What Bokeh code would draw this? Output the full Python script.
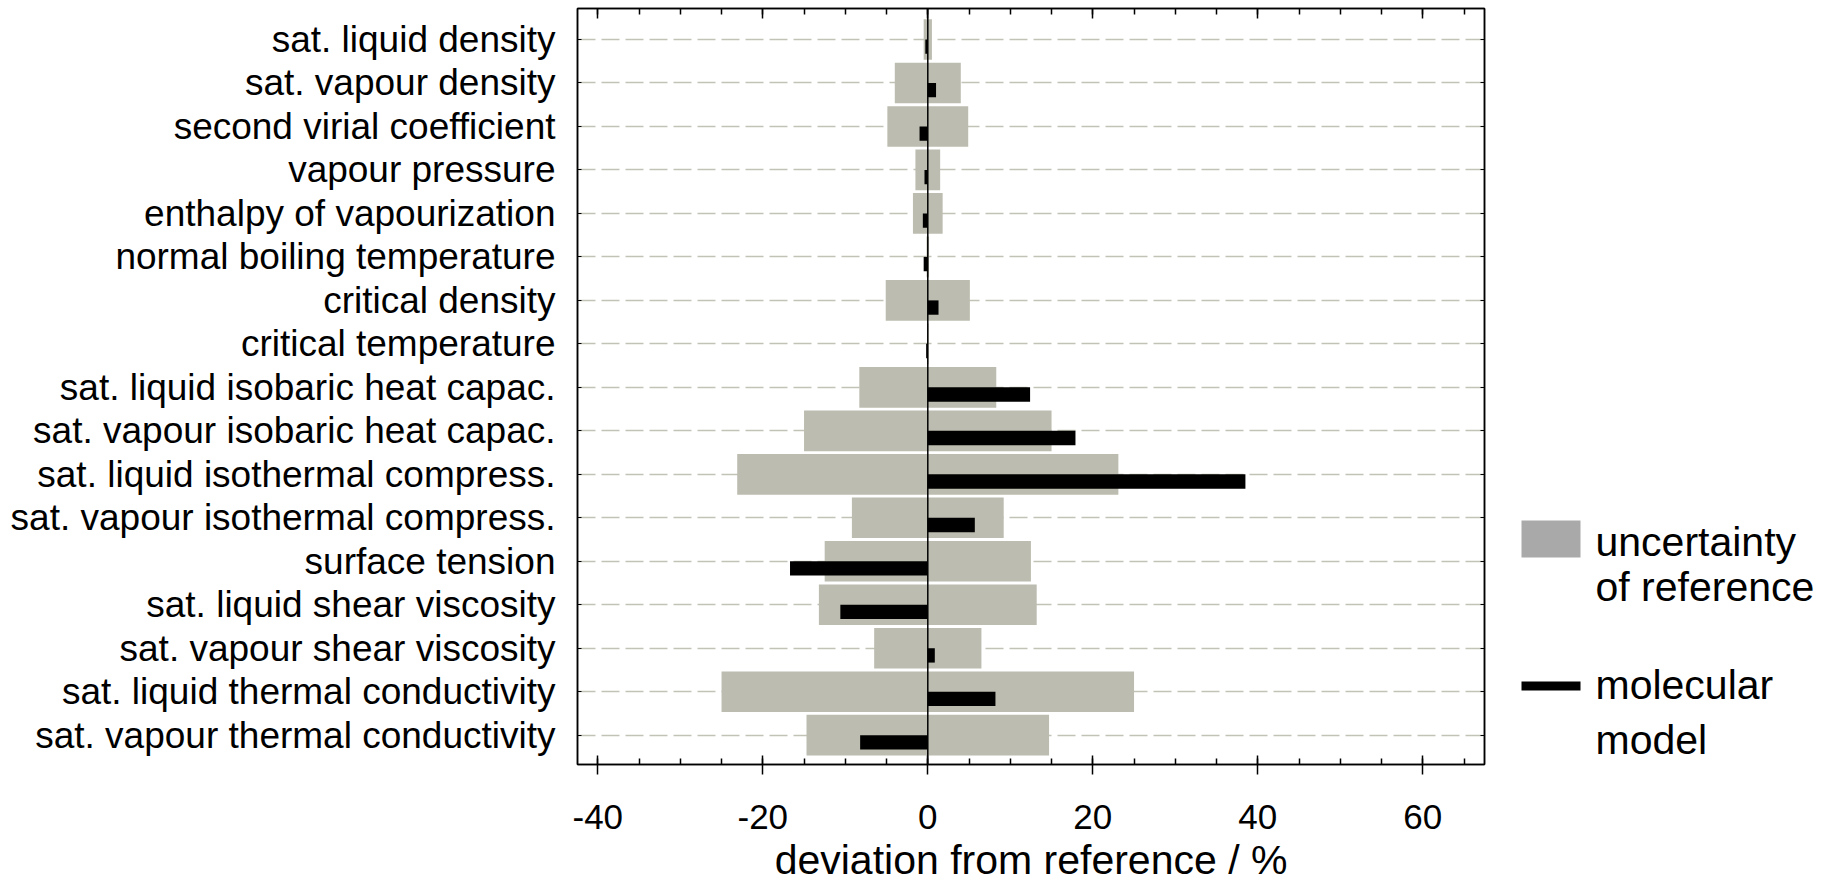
import numpy as np
from bokeh.plotting import figure
from bokeh.models import Range1d, FixedTicker, LinearAxis, Span, ColumnDataSource, Grid
from bokeh.layouts import row, column
from bokeh.embed import file_html
from bokeh.resources import INLINE
from bokeh.core.properties import value

# ---------------- data ----------------
properties = [
    "sat. liquid density",
    "sat. vapour density",
    "second virial coefficient",
    "vapour pressure",
    "enthalpy of vapourization",
    "normal boiling temperature",
    "critical density",
    "critical temperature",
    "sat. liquid isobaric heat capac.",
    "sat. vapour isobaric heat capac.",
    "sat. liquid isothermal compress.",
    "sat. vapour isothermal compress.",
    "surface tension",
    "sat. liquid shear viscosity",
    "sat. vapour shear viscosity",
    "sat. liquid thermal conductivity",
    "sat. vapour thermal conductivity",
]
# uncertainty of reference (symmetric, %)
uncertainty = [0.5, 4.0, 4.9, 1.5, 1.8, 0.15, 5.1, 0.1, 8.3, 15.0, 23.1, 9.2, 12.5, 13.2, 6.5, 25.0, 14.7]
# deviation of molecular model from reference (%)
deviation = [-0.3, 1.0, -1.0, -0.4, -0.6, -0.5, 1.3, -0.2, 12.4, 17.9, 38.5, 5.7, -16.7, -10.6, 0.85, 8.2, -8.2]

x_major_ticks = [-40, -20, 0, 20, 40, 60]
x_minor_ticks = [-40, -35, -30, -25, -20, -15, -10, -5, 0, 5, 10, 15, 20, 25, 30, 35, 40, 45, 50, 55, 60, 65]
x_title = "deviation from reference / %"
legend_lines_1 = ["uncertainty", "of reference"]
legend_lines_2 = ["molecular", "model"]

# ---------------- styles ----------------
FONT = "Liberation Sans"
GREY = "#bcbcb0"
GRID = "#c2c2b6"
LEG_GREY = "#a9a9a9"

n = len(properties)
ypos = list(range(n - 1, -1, -1))
X_START, X_END = -42.46, 67.48

PAGE_W, PAGE_H = 1835, 882
MAIN_W, MAIN_H = 1500, 836
TITLE_H = PAGE_H - MAIN_H
B_LEFT, B_RIGHT, B_TOP, B_BOTTOM = 577, 16, 8, 72

# page has no margin (Bokeh template): canvas coords == page coords
p = figure(width=MAIN_W, height=MAIN_H, output_backend="svg", toolbar_location=None,
           x_range=Range1d(X_START, X_END), y_range=Range1d(-0.674, n - 1 + 0.713),
           x_axis_type=None, y_axis_type=None,
           min_border_left=B_LEFT, min_border_right=B_RIGHT,
           min_border_top=B_TOP, min_border_bottom=B_BOTTOM)
p.outline_line_color = "black"
p.outline_line_width = 1.5
p.background_fill_color = "white"
p.border_fill_color = "white"

xt = FixedTicker(ticks=x_major_ticks, minor_ticks=x_minor_ticks)
yt = FixedTicker(ticks=ypos, minor_ticks=[])

bottom = LinearAxis(ticker=xt, major_label_overrides={t: str(t) for t in x_major_ticks})
bottom.major_tick_in = 9
bottom.major_tick_out = 10
bottom.minor_tick_in = 6
bottom.minor_tick_out = 0
bottom.axis_line_width = 1.5
bottom.major_tick_line_width = 1.5
bottom.minor_tick_line_width = 1.5
bottom.major_label_text_font = FONT
bottom.major_label_text_font_size = "35px"
bottom.major_label_text_color = "black"
bottom.major_label_standoff = 30
p.add_layout(bottom, "below")

top = LinearAxis(ticker=xt)
top.major_tick_in = 10
top.major_tick_out = 0
top.minor_tick_in = 6
top.minor_tick_out = 0
top.axis_line_width = 1.5
top.major_tick_line_width = 1.5
top.minor_tick_line_width = 1.5
top.major_label_text_font_size = "0px"
top.major_label_text_color = None
top.major_label_standoff = 0
p.add_layout(top, "above")

left = LinearAxis(ticker=yt, major_label_overrides={y: name for y, name in zip(ypos, properties)})
left.major_tick_in = 4
left.major_tick_out = 0
left.minor_tick_in = 0
left.minor_tick_out = 0
left.axis_line_width = 1.5
left.major_tick_line_width = 1
left.major_label_text_font = FONT
left.major_label_text_font_size = "37px"
left.major_label_text_color = "black"
left.major_label_standoff = 22
p.add_layout(left, "left")

right = LinearAxis(ticker=yt)
right.major_tick_in = 4
right.major_tick_out = 0
right.minor_tick_in = 0
right.minor_tick_out = 0
right.axis_line_width = 1.5
right.major_tick_line_width = 1
right.major_label_text_font_size = "0px"
right.major_label_text_color = None
right.major_label_standoff = 0
p.add_layout(right, "right")

p.add_layout(Grid(dimension=1, ticker=yt, grid_line_color=GRID, grid_line_width=1.5,
                  grid_line_dash="18 6"))

src = ColumnDataSource(dict(
    y=ypos,
    lo=[-u for u in uncertainty],
    hi=uncertainty,
    dev=deviation,
    ydev=[y - 0.165 for y in ypos],
))
p.hbar(y="y", left="lo", right="hi", height=0.935, source=src,
       fill_color=GREY, line_color=None)
p.hbar(y="ydev", left=0, right="dev", height=0.33, source=src,
       fill_color="black", line_color=None)
p.add_layout(Span(location=0, dimension="height", line_color="black", line_width=1.5))

# ---------------- legend (separate panel; its frame aligns with the main frame,
# ranges chosen so that data units equal page pixels) ----------------
leg = figure(width=PAGE_W - MAIN_W, height=MAIN_H, output_backend="svg", toolbar_location=None,
             x_range=Range1d(MAIN_W, PAGE_W), y_range=Range1d(MAIN_H - B_BOTTOM, B_TOP),
             x_axis_type=None, y_axis_type=None,
             min_border_left=0, min_border_right=0, min_border_top=B_TOP, min_border_bottom=B_BOTTOM)
leg.outline_line_color = None
leg.background_fill_color = "white"
leg.border_fill_color = "white"

leg.quad(left=[1521], right=[1580], top=[520], bottom=[557], fill_color=LEG_GREY, line_color=None)
leg.quad(left=[1521], right=[1580], top=[681], bottom=[690], fill_color="black", line_color=None)
leg.text(x=[1595, 1595, 1595, 1595], y=[541, 586, 684, 739],
         text=legend_lines_1 + legend_lines_2,
         text_font=value(FONT), text_font_size="41px", text_color="black",
         text_align="left", text_baseline="middle")

# ---------------- x-axis title strip under the main plot ----------------
tfig = figure(width=MAIN_W, height=TITLE_H, output_backend="svg", toolbar_location=None,
              x_range=Range1d(X_START, X_END), y_range=Range1d(PAGE_H, MAIN_H),
              x_axis_type=None, y_axis_type=None,
              min_border_left=B_LEFT, min_border_right=B_RIGHT, min_border_top=0, min_border_bottom=0)
tfig.outline_line_color = None
tfig.background_fill_color = "white"
tfig.border_fill_color = "white"
tfig.text(x=[(X_START + X_END) / 2], y=[(PAGE_H + MAIN_H) / 2], text=[x_title],
          text_font=value(FONT), text_font_size="41px", text_color="black",
          text_align="center", text_baseline="middle")

layout = column(row(p, leg), tfig)
open("out.html", "w").write(file_html(layout, INLINE))
